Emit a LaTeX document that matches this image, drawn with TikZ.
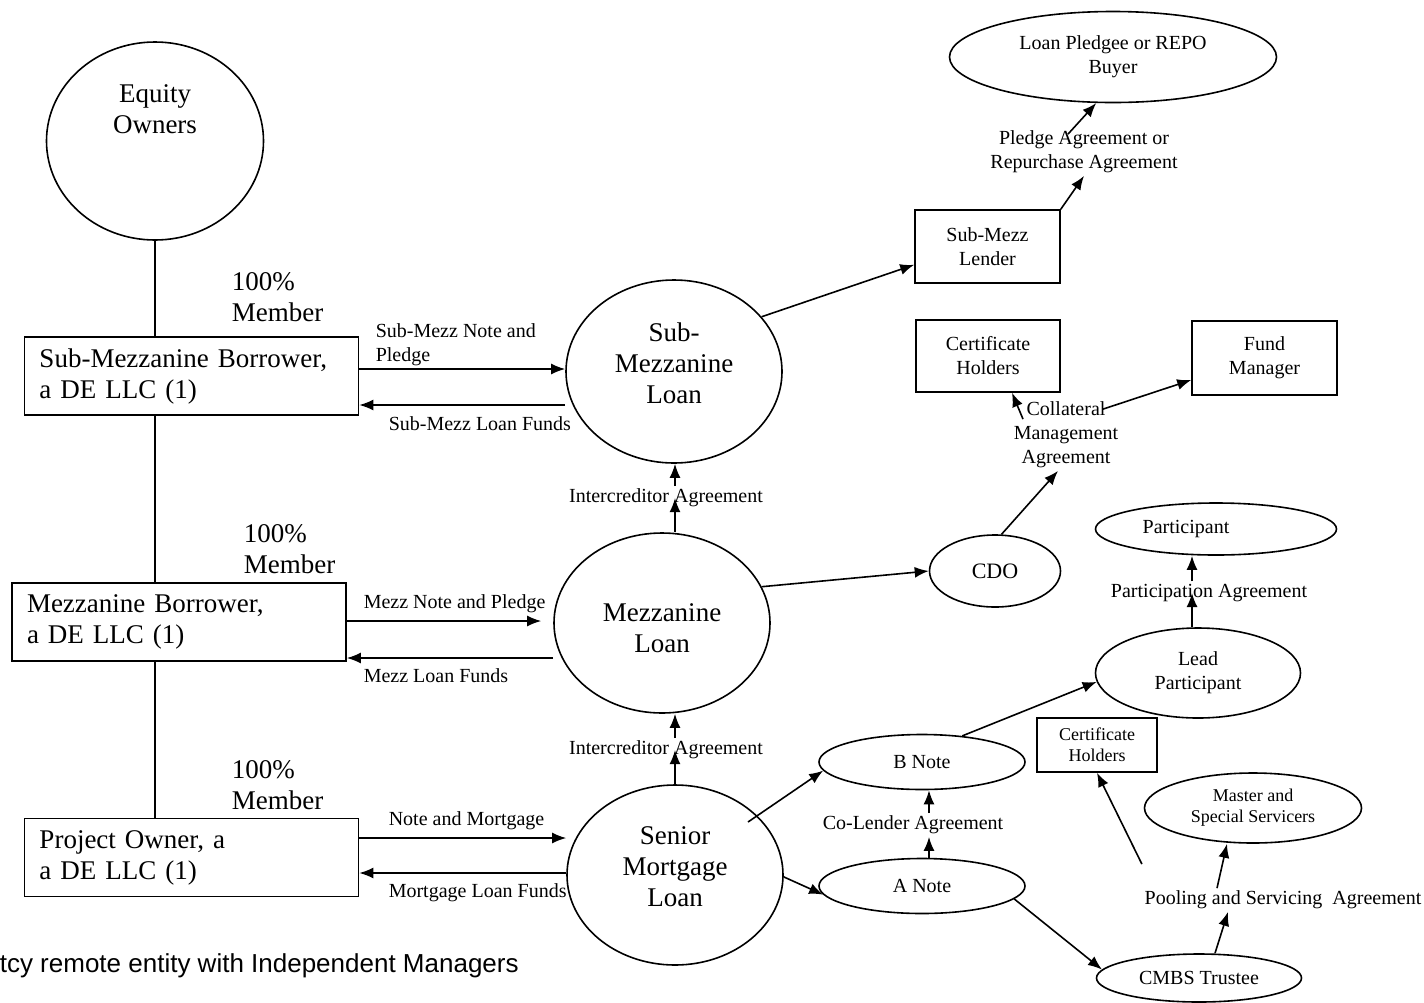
\documentclass[tikz,border=0pt]{standalone}
\usepackage{fontspec}
\setmainfont{Liberation Serif}
\setsansfont{Liberation Sans}
\usetikzlibrary{shapes.geometric,arrows.meta}

\newcommand{\fbig}{\fontsize{13.5}{15.5}\selectfont}
\newcommand{\fsmall}{\fontsize{10}{12}\selectfont}
\newcommand{\ftiny}{\fontsize{9}{10.5}\selectfont}
\newcommand{\fcdo}{\fontsize{11}{13}\selectfont}

\begin{document}
\begin{tikzpicture}[x=0.5pt,y=-0.5pt,line width=0.8pt,
  >={Latex[length=7pt,width=5.5pt]},
  loan/.style={draw,ellipse,inner sep=0pt,minimum width=108pt,minimum height=90pt},
  loantext/.style={align=center,font=\fbig,inner sep=0pt},
  party/.style={draw,ellipse,inner sep=0pt,align=center,font=\fsmall},
  borrower/.style={draw,rectangle,align=left,text width=152pt,inner xsep=7.5pt,
    minimum height=39pt,font=\fbig},
  lender/.style={draw,rectangle,align=center,inner sep=0pt,font=\fsmall},
  agr/.style={align=center,inner sep=1pt,font=\fsmall},
  member/.style={align=left,anchor=west,inner sep=0pt,font=\fbig}]

  \useasboundingbox (0,0) rectangle (1424,1002);

  % owners and borrowers
  \node[draw,ellipse,minimum width=108.5pt,minimum height=99pt] (equity) at (155,141) {};
  \node[align=center,font=\fbig] (equitytxt) at (155,109) {Equity\\Owners};
  \node[borrower] (submezzbor) at (191.5,376) {Sub-Mezzanine Borrower,\\a DE LLC (1)};
  \node[borrower] (mezzbor) at (179,622) {Mezzanine Borrower,\\a DE LLC (1)};
  \node[borrower] (projown) at (191.5,857.5) {Project Owner, a\\a DE LLC (1)};
  \node[member] (mem1) at (231,297.5) {100\%\\Member};
  \node[member] (mem2) at (243,549.5) {100\%\\Member};
  \node[member] (mem3) at (231,785) {100\%\\Member};
  \draw (equity.south) -- (equity.south |- submezzbor.north);
  \draw (submezzbor.south -| equity.south) -- (mezzbor.north -| equity.south);
  \draw (mezzbor.south -| equity.south) -- (projown.north -| equity.south);

  % loans
  \node[loan,minimum height=91.5pt,label={[loantext,yshift=4.25pt]center:Sub-\\Mezzanine\\Loan}]
    (subloan) at (674,371.5) {};
  \node[loan,label={[loantext,yshift=-2.75pt]center:Mezzanine\\Loan}] (mezzloan) at (662,623) {};
  \node[loan,label={[loantext,yshift=4pt]center:Senior\\Mortgage\\Loan}] (senloan) at (675,875) {};

  \node[agr,anchor=west,align=left] (submezznote) at (373,344.5) {Sub-Mezz Note and\\Pledge};
  \node[agr,anchor=west] (submezzfunds) at (386,424) {Sub-Mezz Loan Funds};
  \draw[->] ([yshift=3.5pt]submezzbor.east) -- ([yshift=1.25pt]subloan.west);
  \draw[->] ([yshift=-16.75pt]subloan.west) -- ([yshift=-14.5pt]submezzbor.east);

  \node[agr,anchor=west] (mezznote) at (361,604) {Mezz Note and Pledge};
  \node[agr,anchor=west] (mezzfunds) at (361,676) {Mezz Loan Funds};
  \draw[->] ([yshift=0.5pt]mezzbor.east) -- ([xshift=-6pt,yshift=1pt]mezzloan.west);
  \draw[->] ([yshift=-17.5pt]mezzloan.west) -- ([yshift=-18pt]mezzbor.east);

  \node[agr,anchor=west] (sennote) at (386,821) {Note and Mortgage};
  \node[agr,anchor=west] (senfunds) at (386,893) {Mortgage Loan Funds};
  \draw[->] ([yshift=9.75pt]projown.east) -- ([yshift=18.5pt]senloan.west);
  \draw[->] ([yshift=1pt]senloan.west) -- ([yshift=-7.75pt]projown.east);

  \node[agr] (ica1) at (666,498) {Intercreditor Agreement};
  \node[agr] (ica2) at (666,750) {Intercreditor Agreement};
  \draw[->] (mezzloan.north -| senloan.north) -- (senloan.north |- ica1.center);
  \draw[->] (senloan.north |- ica1.north) -- (senloan.north |- subloan.south);
  \draw[->] (senloan.north) -- (senloan.north |- ica2.center);
  \draw[->] (senloan.north |- ica2.north) -- (senloan.north |- mezzloan.south);

  % sub-mezz side
  \node[lender,minimum width=72.5pt,minimum height=36.5pt] (sublender) at (987.5,246.5) {Sub-Mezz\\Lender};
  \node[party,minimum width=163.5pt,minimum height=45.5pt] (pledgee) at (1113,57) {Loan Pledgee or REPO\\Buyer};
  \node[agr] (pledgeagr) at (1084,152) {Pledge Agreement or\\Repurchase Agreement};
  \draw[->] (subloan.32) -- (sublender.-166);
  \draw[->] (sublender.north east) -- (pledgeagr.south);
  \draw[->] ([xshift=-8pt,yshift=-3pt]pledgeagr.north) -- (pledgee.-110);

  % mezz side
  \node[lender,minimum width=72pt,minimum height=36pt] (certup) at (988,356) {Certificate\\Holders};
  \node[lender,minimum width=72.5pt,minimum height=37pt] (fundmgr) at (1264.5,358) {Fund\\Manager};
  \node[party,minimum width=65.5pt,minimum height=36pt,font=\fcdo] (cdo) at (995,571) {CDO};
  \node[agr] (cma) at (1066,435) {Collateral\\Management\\Agreement};
  \draw[->] (mezzloan.20) -- (cdo.west);
  \draw[->] (cdo.80) -- ([xshift=-4pt]cma.south);
  \draw[->] ([xshift=6pt,yshift=-10pt]cma.north west) -- ([xshift=12pt]certup.south);
  \draw[->] ([xshift=-9pt,yshift=-5pt]cma.north east) -- ([yshift=-11pt]fundmgr.west);

  % senior side
  \node[party,minimum width=120.5pt,minimum height=26pt,
    label={[font=\fsmall,xshift=-15pt]center:Participant}] (participant) at (1216,529) {};
  \node[agr] (partagr) at (1209,593) {Participation Agreement};
  \node[party,minimum width=102.5pt,minimum height=45pt] (lead) at (1198,673) {Lead\\Participant};
  \node[party,minimum width=103pt,minimum height=27.5pt] (bnote) at (922,762) {B Note};
  \node[party,minimum width=103pt,minimum height=27.5pt] (anote) at (922,886) {A Note};
  \node[agr] (colender) at (913,825) {Co-Lender Agreement};
  \node[lender,minimum width=60pt,minimum height=27pt,font=\ftiny] (certlow) at (1097,745) {Certificate\\Holders};
  \node[party,minimum width=108.5pt,minimum height=35pt,font=\ftiny] (master) at (1253,808) {Master and\\Special Servicers};
  \node[agr] (pooling) at (1283,900) {Pooling and Servicing~ Agreement};
  \node[party,minimum width=102.5pt,minimum height=24pt] (cmbs) at (1199,978) {CMBS Trustee};

  \draw[->] ([xshift=-3pt]lead.north) -- ([xshift=-3pt]lead.north |- partagr.center);
  \draw[->] ([xshift=-3pt]lead.north |- partagr.north) -- ([xshift=-3pt]lead.north |- participant.south);
  \draw[->] ([xshift=3.5pt]anote.north) -- ([xshift=3.5pt]anote.north |- colender.south);
  \draw[->] ([xshift=3.5pt]anote.north |- colender.north) -- ([xshift=3.5pt]bnote.south);
  \draw[->] ([xshift=36.5pt,yshift=26.5pt]senloan.center) -- (bnote.185);
  \draw[->] (senloan.-1) -- (anote.185);
  \draw[->] (bnote.33) -- (lead.185);
  \draw[->] (anote.-8) -- (cmbs.175);
  \draw[->] ([xshift=8pt]cmbs.north) -- ([xshift=-27.5pt]pooling.south);
  \draw[->] ([xshift=-33pt]pooling.north) -- ([xshift=-13pt]master.south);
  \draw[->] ([yshift=12pt]pooling.north west) -- (certlow.south);

  \node[anchor=west,inner sep=0pt,font=\sffamily\fontsize{13}{15}\selectfont] (footnote) at (-1,966)
    {tcy remote entity with Independent Managers};
\end{tikzpicture}
\end{document}
